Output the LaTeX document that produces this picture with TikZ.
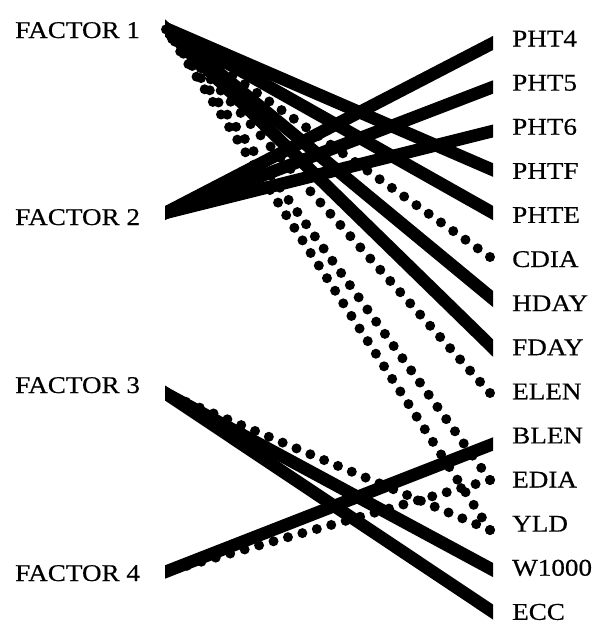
\documentclass[tikz,border=0pt]{standalone}
\usepackage{fontspec}
\setmainfont{Liberation Serif}[FakeStretch=1.13,FakeBold=0.5]
\begin{document}
\begin{tikzpicture}[x=1pt,y=1pt,
  lab/.style={inner sep=0pt,anchor=base west,font=\fontsize{24}{24}\selectfont},
  solidlink/.style={line width=12.5pt,line cap=butt,shorten <=-12pt,shorten >=-12pt},
  dotlink/.style={line width=10pt,line cap=round,dash pattern=on 0pt off 15pt}]
\useasboundingbox (0,0) rectangle (592,-624);
% labels
\node[lab] (F1) at (15,-38) {FACTOR 1};
\node[lab] (F2) at (15,-225) {FACTOR 2};
\node[lab] (F3) at (15,-393) {FACTOR 3};
\node[lab] (F4) at (15,-581) {FACTOR 4};
\foreach \n [count=\i from 0] in {PHT4,PHT5,PHT6,PHTF,PHTE,CDIA,HDAY,FDAY,ELEN,BLEN,EDIA,YLD,W1000,ECC}
  \node[lab] (\n) at (512,{-46.5-44.1*\i}) {\n};
% connector ends
\coordinate (f1) at (165,-28);
\coordinate (f2) at (165,-213);
\coordinate (f3) at (165,-393);
\coordinate (f4) at (165,-572);
\coordinate (ePHT4) at (493,-43);
\coordinate (ePHT5) at (493,-87);
\coordinate (ePHT6) at (493,-131);
\coordinate (ePHTF) at (493,-170);
\coordinate (ePHTE) at (493,-213);
\coordinate (eHDAY) at (493,-299);
\coordinate (eFDAY) at (493,-348);
\coordinate (eBLEN) at (493,-444);
\coordinate (eW1000) at (493,-570);
\coordinate (eECC) at (493,-612);
\coordinate (eCDIA) at (490,-257);
\coordinate (eELEN) at (490,-393);
\coordinate (eEDIA) at (490,-480);
\coordinate (eYLD) at (490,-530);
% solid links
\begin{scope}
\clip (165,0) rectangle (493,-624);
\draw[solidlink] (f1) -- (ePHTF);
\draw[solidlink] (f1) -- (ePHTE);
\draw[solidlink] (f1) -- (eHDAY);
\draw[solidlink] (f1) -- (eFDAY);
\draw[solidlink] (f2) -- (ePHT4);
\draw[solidlink] (f2) -- (ePHT5);
\draw[solidlink] (f2) -- (ePHT6);
\draw[solidlink] (f3) -- (eW1000);
\draw[solidlink] (f3) -- (eECC);
\draw[solidlink] (f4) -- (eBLEN);
\end{scope}
% dotted links
\draw[dotlink] (eCDIA) -- (f1);
\draw[dotlink] (eELEN) -- (f1);
\draw[dotlink] (eEDIA) -- (f1);
\draw[dotlink] (eYLD) -- (f1);
\draw[dotlink] (eYLD) -- (f3);
\draw[dotlink] (eEDIA) -- (f4);
\end{tikzpicture}
\end{document}
